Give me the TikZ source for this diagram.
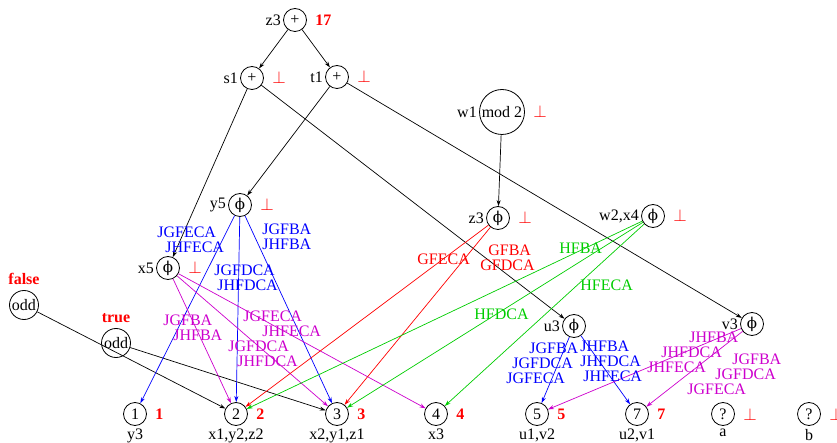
\documentclass[tikz,border=0pt]{standalone}
\usepackage{fontspec}
\setmainfont{Liberation Serif}
\newfontfamily\phifont{DejaVu Serif}
\usetikzlibrary{arrows.meta,positioning}
\definecolor{grn}{RGB}{0,205,0}
\definecolor{mag}{RGB}{205,0,205}
\newcommand{\phisym}{{\phifont\fontsize{15}{15}\selectfont ϕ}}

\begin{document}
\begin{tikzpicture}[x=1pt,y=-1pt,>={Stealth[length=6pt,width=4pt]},
   every node/.style={font=\fontsize{16}{15}\selectfont},
   op/.style={draw,circle,line width=0.8pt,minimum size=23pt,inner sep=0pt},
   nm/.style={label={[inner sep=0pt,label distance=2pt]left:#1}},
   val/.style={label={[inner sep=0pt,label distance=8pt,text=red,
      font=\fontsize{16}{15}\selectfont\bfseries]right:#1}},
   undef/.style={label={[inner sep=0pt,label distance=8pt,text=red]right:$\perp$}},
   bot/.style={label={[inner sep=0pt,label distance=3pt]below:#1}},
   lab/.style={inner sep=0pt,align=left,anchor=west},
   line width=0.7pt]
  \useasboundingbox (0,0) rectangle (837,443);
  % operations
  \node[op,nm=z3,val=17] (zt) at (295,20) {+};
  \node[op,nm=s1,undef] (s1) at (252,78) {+};
  \node[op,nm=t1,undef] (t1) at (337,77) {+};
  \node[op,nm=w1,undef,minimum size=45pt] (w1) at (502,112) {mod 2};
  \node[op,nm=y5,undef] (y5) at (240,205) {\phisym};
  \node[op,nm=x5,undef] (x5) at (168,268) {\phisym};
  \node[op,nm=z3,undef] (z3) at (498,218) {\phisym};
  \node[op,nm={w2,x4},undef] (w2) at (653,216) {\phisym};
  \node[op,nm=u3] (u3) at (574,326) {\phisym};
  \node[op,nm=v3] (v3) at (752,324) {\phisym};
  \node[op,minimum size=29pt,label={[inner sep=0pt,label distance=5pt,text=red,
     font=\fontsize{16}{15}\selectfont\bfseries]above:false}] (oddf) at (24,305) {odd};
  \node[op,minimum size=29pt,label={[inner sep=0pt,label distance=5pt,text=red,
     font=\fontsize{16}{15}\selectfont\bfseries]above:true}] (oddt) at (116,343) {odd};
  % constants
  \node[op,val=1,bot=y3] (n1) at (135,414) {1};
  \node[op,val=2,bot={x1,y2,z2}] (n2) at (236,414) {2};
  \node[op,val=3,bot={x2,y1,z1}] (n3) at (337,414) {3};
  \node[op,val=4,bot=x3] (n4) at (436,414) {4};
  \node[op,val=5,bot={u1,v2}] (n5) at (537,414) {5};
  \node[op,val=7,bot={u2,v1}] (n7) at (637,414) {7};
  \node[op,undef,bot=a] (na) at (723,414) {?};
  \node[op,undef,bot=b] (nb) at (809,414) {?};
  % black edges
  \draw[->] (zt) -- (s1);
  \draw[->] (zt) -- (t1);
  \draw[->] (s1) -- (x5);
  \draw[->] (s1) -- (u3);
  \draw[->] (t1) -- (y5);
  \draw[->] (t1) -- (v3);
  \draw[->] (w1) -- (z3);
  \draw[->] (oddf) -- (n2);
  \draw[->] (oddt) -- (n3);
  % coloured edges
  \draw[->,blue] (y5) -- (n1);
  \draw[->,blue] (y5) -- (n2);
  \draw[->,blue] (y5) -- (n3);
  \draw[->,mag] (x5) -- (n2);
  \draw[->,mag] (x5) -- (n3);
  \draw[->,mag] (x5) -- (n4);
  \draw[->,red] (z3) -- (n2);
  \draw[->,red] (z3) -- (n3);
  \draw[->,grn] (w2) -- (n2);
  \draw[->,grn] (w2) -- (n3);
  \draw[->,grn] (w2) -- (n4);
  \draw[->,blue] (u3) -- (n5);
  \draw[->,blue] (u3) -- (n7);
  \draw[->,mag] (v3) -- (n5);
  \draw[->,mag] (v3) -- (n7);
  % edge labels
  \node[lab,blue] (ly1) at (157,239.5) {JGFECA\\\hspace*{8pt}JHFECA};
  \node[lab,blue] (ly3) at (262,237) {JGFBA\\JHFBA};
  \node[lab,blue] (ly2) at (214,277.5) {JGFDCA\\\hspace*{3pt}JHFDCA};
  \node[lab,mag] (lx2) at (163,327.5) {JGFBA\\\hspace*{10pt}JHFBA};
  \node[lab,mag] (lx4) at (243,323.5) {JGFECA\\\hspace*{19pt}JHFECA};
  \node[lab,mag] (lx3) at (228,353.5) {JGFDCA\\\hspace*{9pt}JHFDCA};
  \node[lab,red] (lz2) at (417,259) {GFECA};
  \node[lab,red] (lz3) at (480,257.5) {\hspace*{8pt}GFBA\\GFDCA};
  \node[lab,grn] (lw2) at (559,248) {HFBA};
  \node[lab,grn] (lw4) at (580,285) {HFECA};
  \node[lab,grn] (lw3) at (474,314) {HFDCA};
  \node[lab,blue] (lu5) at (506,363.5) {\hspace*{23pt}JGFBA\\\hspace*{6pt}JGFDCA\\JGFECA};
  \node[lab,blue] (lu7) at (580,361) {JHFBA\\JHFDCA\\\hspace*{3pt}JHFECA};
  \node[lab,mag] (lv5) at (647,352) {\hspace*{42pt}JHFBA\\\hspace*{14pt}JHFDCA\\JHFECA};
  \node[lab,mag] (lv7) at (687,374) {\hspace*{45pt}JGFBA\\\hspace*{28pt}JGFDCA\\JGFECA};
\end{tikzpicture}
\end{document}
